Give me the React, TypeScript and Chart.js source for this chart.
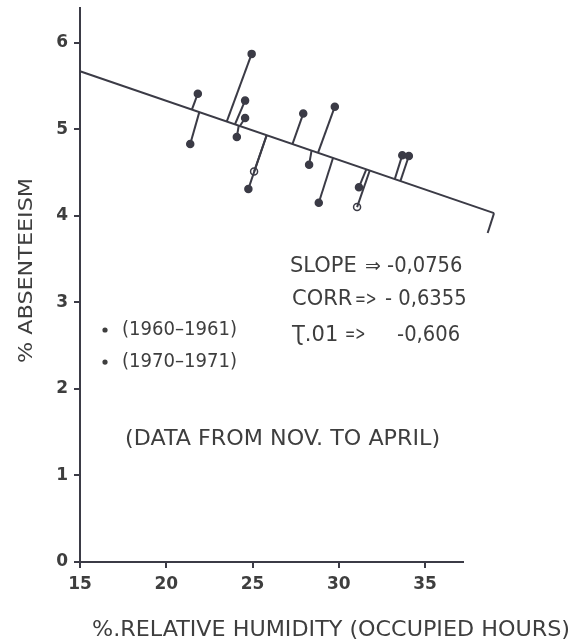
import React, { useEffect, useRef } from "react";
import { Chart, registerables } from "chart.js";

Chart.register(...registerables);

// Regression line endpoints
const regX = [15, 39.0];
const regY = [5.67, 4.03];

// Observed points
const ptX = [21.83, 21.39, 24.95, 24.57, 24.57, 24.09, 25.09, 24.76, 27.94, 28.28, 28.84, 29.77, 31.17, 31.06, 33.68, 34.06, 38.63];
const ptY = [5.41, 4.83, 5.87, 5.33, 5.13, 4.91, 4.51, 4.31, 5.18, 4.59, 4.15, 5.26, 4.33, 4.10, 4.70, 4.69, 3.80];
const hollow = [false, false, false, false, false, false, true, false, false, false, false, false, false, true, false, false, true];

// Where each residual segment meets the regression line
const footX = [21.49, 21.92, 23.51, 23.99, 24.28, 24.2, 25.82, 25.82, 27.32, 28.42, 29.67, 28.80, 31.6, 31.79, 33.24, 33.57, 39.0];
const footY = [5.23, 5.20, 5.09, 5.06, 5.04, 5.04, 4.93, 4.93, 4.83, 4.75, 4.67, 4.73, 4.54, 4.52, 4.42, 4.40, 4.03];

const xTicks = [15, 20, 25, 30, 35];
const yTicks = [0, 1, 2, 3, 4, 5, 6];

const legendLabels = ["(1960–1961)", "(1970–1971)"];
const statLabels = ["SLOPE", "CORR", "Ʈ.01"];
const statArrows = ["⇒", "=>", "=>"];
const statValues = ["-0,0756", "- 0,6355", "-0,606"];
const note = "(DATA FROM NOV. TO APRIL)";
const xTitle = "%.RELATIVE HUMIDITY (OCCUPIED HOURS)";
const yTitle = "% ABSENTEEISM";

const INK = "#3b3b46";
const TXT = "#3e3e3e";
const FONT = "'DejaVu Sans', sans-serif";

// text layout (data-space anchors), kept apart from the data arrays
const STAT_ROWS = [3.41, 3.03, 2.62];
const STAT_LABEL_X = [27.17, 27.29, 27.29];
const STAT_ARROW_X = [31.52, 30.94, 30.36];
const STAT_ARROW_SX = [1, 0.68, 0.64];
const STAT_VALUE_X = [32.8, 32.68, 33.38];
const LEGEND_ROWS = [2.68, 2.31];

function drawFit(ctx: any, text: string, x1: number, x2: number, y: number, size: number, weight = "normal") {
  ctx.font = `${weight} ${size}px ${FONT}`;
  ctx.textAlign = "left";
  ctx.textBaseline = "middle";
  const m = ctx.measureText(text).width;
  ctx.save();
  ctx.translate(x1, y);
  ctx.scale((x2 - x1) / m, 1);
  ctx.fillText(text, 0, 0);
  ctx.restore();
}

function drawAt(ctx: any, text: string, x: number, y: number, size: number, sx = 1) {
  ctx.font = `${size}px ${FONT}`;
  ctx.textAlign = "left";
  ctx.textBaseline = "middle";
  ctx.save();
  ctx.translate(x, y);
  ctx.scale(sx, 1);
  ctx.fillText(text, 0, 0);
  ctx.restore();
}

const textPlugin = {
  id: "textPlugin",
  afterDraw(chart: any) {
    const { ctx } = chart;
    const xs = chart.scales.x;
    const ys = chart.scales.y;
    const px = (v: number) => xs.getPixelForValue(v);
    const py = (v: number) => ys.getPixelForValue(v);
    ctx.save();
    ctx.fillStyle = TXT;

    statLabels.forEach((lab, i) => {
      const y = py(STAT_ROWS[i]);
      drawAt(ctx, lab, px(STAT_LABEL_X[i]), y, 21, 1);
      drawAt(ctx, statArrows[i], px(STAT_ARROW_X[i]), y, 19, STAT_ARROW_SX[i]);
      drawAt(ctx, statValues[i], px(STAT_VALUE_X[i]), y, 21, 0.93);
    });

    legendLabels.forEach((lab, i) => {
      const y = py(LEGEND_ROWS[i]);
      ctx.beginPath();
      ctx.arc(px(16.45), y, 2.6, 0, Math.PI * 2);
      ctx.fill();
      drawFit(ctx, lab, px(17.43), px(24.1), y, 19);
    });

    drawFit(ctx, note, px(17.61), px(35.87), py(1.41), 21);

    // x title
    drawFit(ctx, xTitle, 92, 570, chart.height - 13, 21);

    // y title
    ctx.save();
    ctx.translate(27, 363);
    ctx.rotate(-Math.PI / 2);
    drawFit(ctx, yTitle, 0, 185, 0, 19);
    ctx.restore();

    ctx.restore();
  },
};

export default function App() {
  const ref = useRef<HTMLCanvasElement>(null);
  useEffect(() => {
    if (!ref.current) return;
    const segDatasets = ptX.map((x, i) => ({
      type: "line" as const,
      data: [
        { x, y: ptY[i] },
        { x: footX[i], y: footY[i] },
      ],
      borderColor: INK,
      borderWidth: 2,
      pointRadius: 0,
      clip: false as any,
    }));
    const chart = new Chart(ref.current, {
      type: "scatter",
      data: {
        datasets: [
          {
            type: "line",
            data: regX.map((x, i) => ({ x, y: regY[i] })),
            borderColor: INK,
            borderWidth: 2,
            pointRadius: 0,
            clip: false as any,
          } as any,
          ...segDatasets,
          {
            type: "scatter",
            data: ptX.map((x, i) => ({ x, y: ptY[i] })),
            pointRadius: 3.5,
            pointBorderWidth: 1.5,
            pointBackgroundColor: hollow.map((h) => (h ? "#ffffff" : INK)),
            pointBorderColor: INK,
            clip: false as any,
          } as any,
        ],
      },
      options: {
        animation: false,
        responsive: true,
        maintainAspectRatio: false,
        layout: { padding: { top: 8, right: 116, left: 0, bottom: 0 } },
        plugins: { legend: { display: false }, tooltip: { enabled: false } },
        scales: {
          x: {
            type: "linear",
            min: 15,
            max: 37.2,
            afterFit: (s: any) => {
              s.height = 82;
              s.paddingLeft = 0;
              s.paddingRight = 0;
            },
            afterBuildTicks: (s: any) => {
              s.ticks = xTicks.map((v) => ({ value: v }));
            },
            ticks: {
              color: TXT,
              font: { family: FONT, size: 17, weight: "bold" },
              padding: 6,
              maxRotation: 0,
              autoSkip: false,
            },
            grid: {
              drawOnChartArea: false,
              drawTicks: true,
              tickLength: 6,
              color: INK,
              lineWidth: 2,
            },
            border: { display: true, color: INK, width: 2 },
          },
          y: {
            type: "linear",
            min: 0,
            max: 6.4,
            afterFit: (s: any) => {
              s.width = 80;
              s.paddingTop = 0;
              s.paddingBottom = 0;
            },
            afterBuildTicks: (s: any) => {
              s.ticks = yTicks.map((v) => ({ value: v }));
            },
            ticks: {
              color: TXT,
              font: { family: FONT, size: 17, weight: "bold" },
              padding: 6,
              autoSkip: false,
            },
            grid: {
              drawOnChartArea: false,
              drawTicks: true,
              tickLength: 6,
              color: INK,
              lineWidth: 2,
            },
            border: { display: true, color: INK, width: 2 },
          },
        },
      },
      plugins: [textPlugin],
    } as any);
    return () => chart.destroy();
  }, []);
  return (
    <div style={{ position: "fixed", left: 0, top: 0, width: 579, height: 644, background: "#ffffff" }}>
      <canvas ref={ref} />
    </div>
  );
}
